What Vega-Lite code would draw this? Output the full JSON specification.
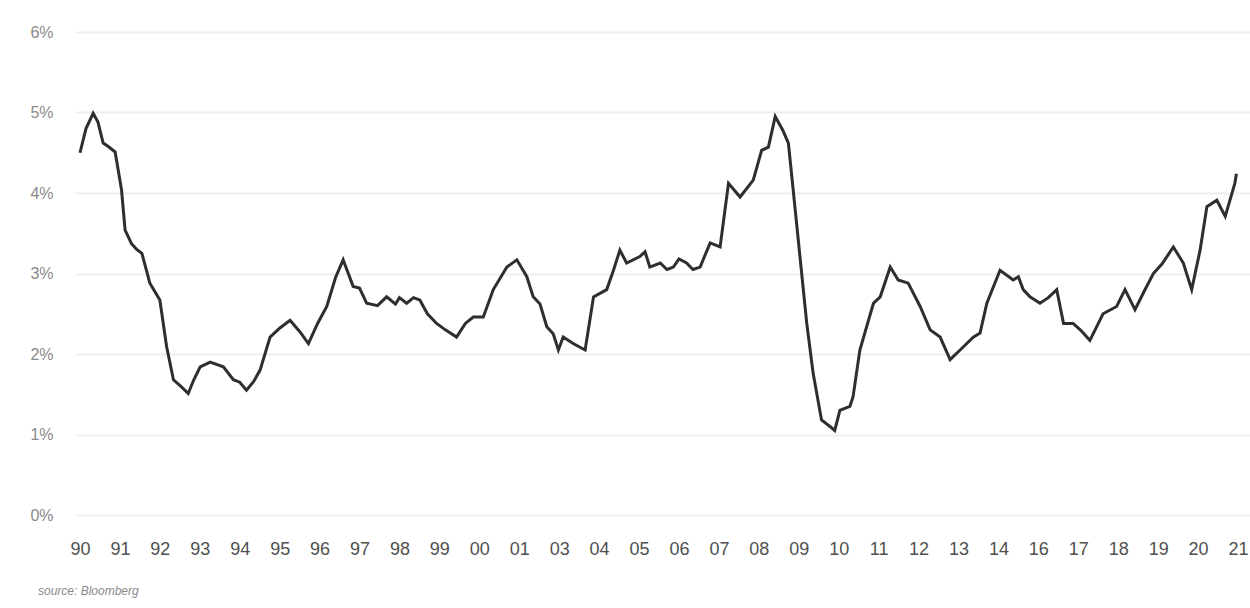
{
  "$schema": "https://vega.github.io/schema/vega-lite/v6.json",
  "width": 1175,
  "height": 483,
  "autosize": "none",
  "padding": {"left": 75, "top": 32, "right": 0, "bottom": 93},
  "background": "white",
  "config": {
    "view": {"stroke": null},
    "font": "Liberation Sans"
  },
  "title": {
    "text": "source: Bloomberg",
    "orient": "bottom",
    "anchor": "start",
    "frame": "group",
    "dx": -37,
    "offset": 28,
    "fontSize": 12,
    "fontStyle": "italic",
    "fontWeight": "normal",
    "color": "#8a8a8a",
    "font": "Liberation Sans"
  },
  "data": {
    "values": [
      {"t": 0.00, "v": 4.50}, {"t": 0.15, "v": 4.80}, {"t": 0.33, "v": 4.99}, {"t": 0.45, "v": 4.88},
      {"t": 0.58, "v": 4.62}, {"t": 0.70, "v": 4.58}, {"t": 0.88, "v": 4.51}, {"t": 1.04, "v": 4.04},
      {"t": 1.13, "v": 3.54}, {"t": 1.29, "v": 3.37}, {"t": 1.42, "v": 3.30}, {"t": 1.55, "v": 3.25},
      {"t": 1.75, "v": 2.88}, {"t": 2.00, "v": 2.67}, {"t": 2.17, "v": 2.09}, {"t": 2.34, "v": 1.68},
      {"t": 2.52, "v": 1.60}, {"t": 2.71, "v": 1.51}, {"t": 2.85, "v": 1.68}, {"t": 3.01, "v": 1.84},
      {"t": 3.26, "v": 1.90}, {"t": 3.59, "v": 1.84}, {"t": 3.84, "v": 1.68}, {"t": 4.00, "v": 1.65},
      {"t": 4.17, "v": 1.55}, {"t": 4.35, "v": 1.66}, {"t": 4.51, "v": 1.80}, {"t": 4.76, "v": 2.21},
      {"t": 5.00, "v": 2.32}, {"t": 5.26, "v": 2.42}, {"t": 5.50, "v": 2.28}, {"t": 5.72, "v": 2.13},
      {"t": 5.95, "v": 2.38}, {"t": 6.18, "v": 2.59}, {"t": 6.40, "v": 2.95}, {"t": 6.59, "v": 3.17},
      {"t": 6.84, "v": 2.84}, {"t": 7.00, "v": 2.82}, {"t": 7.18, "v": 2.63}, {"t": 7.45, "v": 2.60},
      {"t": 7.68, "v": 2.71}, {"t": 7.90, "v": 2.62}, {"t": 8.00, "v": 2.70}, {"t": 8.18, "v": 2.63},
      {"t": 8.35, "v": 2.70}, {"t": 8.51, "v": 2.67}, {"t": 8.70, "v": 2.50}, {"t": 8.93, "v": 2.38},
      {"t": 9.15, "v": 2.30}, {"t": 9.43, "v": 2.21}, {"t": 9.65, "v": 2.38}, {"t": 9.85, "v": 2.46},
      {"t": 10.10, "v": 2.46}, {"t": 10.35, "v": 2.80}, {"t": 10.69, "v": 3.08}, {"t": 10.94, "v": 3.17},
      {"t": 11.19, "v": 2.96}, {"t": 11.35, "v": 2.71}, {"t": 11.52, "v": 2.62}, {"t": 11.69, "v": 2.34},
      {"t": 11.85, "v": 2.25}, {"t": 11.98, "v": 2.05}, {"t": 12.10, "v": 2.21}, {"t": 12.35, "v": 2.13},
      {"t": 12.65, "v": 2.05}, {"t": 12.86, "v": 2.71}, {"t": 13.19, "v": 2.80}, {"t": 13.36, "v": 3.04},
      {"t": 13.52, "v": 3.29}, {"t": 13.69, "v": 3.13}, {"t": 14.02, "v": 3.21}, {"t": 14.15, "v": 3.27},
      {"t": 14.27, "v": 3.08}, {"t": 14.53, "v": 3.13}, {"t": 14.70, "v": 3.05}, {"t": 14.86, "v": 3.08},
      {"t": 15.00, "v": 3.18}, {"t": 15.19, "v": 3.13}, {"t": 15.35, "v": 3.05}, {"t": 15.53, "v": 3.08},
      {"t": 15.78, "v": 3.38}, {"t": 16.03, "v": 3.33}, {"t": 16.24, "v": 4.12}, {"t": 16.53, "v": 3.95},
      {"t": 16.86, "v": 4.16}, {"t": 17.07, "v": 4.53}, {"t": 17.24, "v": 4.57}, {"t": 17.41, "v": 4.95},
      {"t": 17.60, "v": 4.78}, {"t": 17.74, "v": 4.62}, {"t": 17.86, "v": 4.04}, {"t": 18.03, "v": 3.21},
      {"t": 18.20, "v": 2.38}, {"t": 18.36, "v": 1.76}, {"t": 18.57, "v": 1.18}, {"t": 18.78, "v": 1.10},
      {"t": 18.90, "v": 1.05}, {"t": 19.03, "v": 1.30}, {"t": 19.28, "v": 1.35}, {"t": 19.36, "v": 1.47},
      {"t": 19.53, "v": 2.05}, {"t": 19.87, "v": 2.63}, {"t": 20.04, "v": 2.71}, {"t": 20.29, "v": 3.08},
      {"t": 20.49, "v": 2.92}, {"t": 20.74, "v": 2.88}, {"t": 21.04, "v": 2.59}, {"t": 21.29, "v": 2.30},
      {"t": 21.54, "v": 2.21}, {"t": 21.79, "v": 1.93}, {"t": 22.04, "v": 2.05}, {"t": 22.37, "v": 2.21},
      {"t": 22.54, "v": 2.26}, {"t": 22.71, "v": 2.63}, {"t": 23.04, "v": 3.04}, {"t": 23.37, "v": 2.92},
      {"t": 23.50, "v": 2.96}, {"t": 23.62, "v": 2.80}, {"t": 23.79, "v": 2.71}, {"t": 24.04, "v": 2.63},
      {"t": 24.25, "v": 2.70}, {"t": 24.46, "v": 2.80}, {"t": 24.63, "v": 2.38}, {"t": 24.87, "v": 2.38},
      {"t": 25.05, "v": 2.30}, {"t": 25.29, "v": 2.17}, {"t": 25.62, "v": 2.50}, {"t": 25.96, "v": 2.59},
      {"t": 26.17, "v": 2.80}, {"t": 26.42, "v": 2.55}, {"t": 26.65, "v": 2.78}, {"t": 26.88, "v": 3.00},
      {"t": 27.10, "v": 3.12}, {"t": 27.38, "v": 3.33}, {"t": 27.63, "v": 3.13}, {"t": 27.84, "v": 2.80},
      {"t": 28.05, "v": 3.29}, {"t": 28.22, "v": 3.83}, {"t": 28.47, "v": 3.91}, {"t": 28.68, "v": 3.71},
      {"t": 28.92, "v": 4.12}, {"t": 28.96, "v": 4.24}
    ]
  },
  "mark": {"type": "line", "color": "#2e2e2e", "strokeWidth": 3, "strokeJoin": "miter"},
  "encoding": {
    "x": {
      "field": "t",
      "type": "quantitative",
      "scale": {"domain": [-0.125, 29.3], "nice": false, "zero": false},
      "axis": {
        "title": null,
        "values": [0,1,2,3,4,5,6,7,8,9,10,11,12,13,14,15,16,17,18,19,20,21,22,23,24,25,26,27,28,29],
        "labelExpr": "['90','91','92','93','94','95','96','97','98','99','00','01','03','04','05','06','07','08','09','10','11','12','13','14','16','17','18','19','20','21'][datum.value]",
        "grid": false,
        "domain": false,
        "ticks": false,
        "labelPadding": 25,
        "labelFontSize": 18,
        "labelColor": "#505050",
        "labelFont": "Liberation Sans",
        "labelFlush": false,
        "labelOverlap": false
      }
    },
    "y": {
      "field": "v",
      "type": "quantitative",
      "scale": {"domain": [0, 6], "nice": false},
      "axis": {
        "title": null,
        "values": [0, 1, 2, 3, 4, 5, 6],
        "labelExpr": "datum.value + '%'",
        "domain": false,
        "ticks": false,
        "gridColor": "#eeeeee",
        "gridWidth": 2,
        "labelPadding": 22,
        "labelFontSize": 16,
        "labelColor": "#8a8a8a",
        "labelFlush": false
      }
    }
  }
}
